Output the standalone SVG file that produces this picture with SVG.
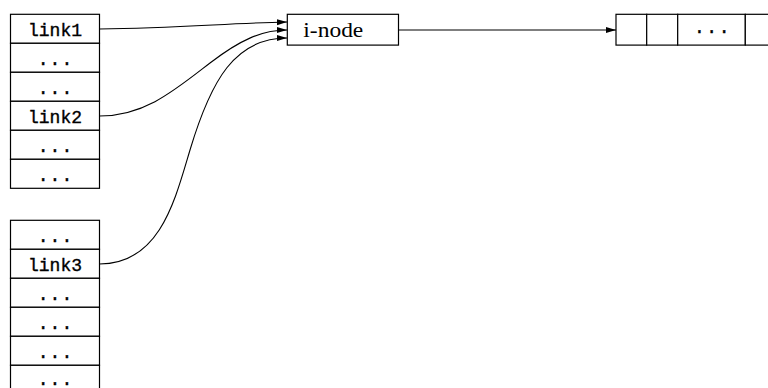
<svg xmlns="http://www.w3.org/2000/svg" width="768" height="388" viewBox="0 0 768 388">
<defs>
<style>
.box{fill:#fff;stroke:#000;stroke-width:1.2}
.mono{font-family:"Liberation Mono","DejaVu Sans Mono",monospace;font-size:18px;fill:#000;stroke:#000;stroke-width:0.35;text-anchor:middle}
.dots{letter-spacing:1px}
.serif{font-family:"Liberation Serif","DejaVu Serif",serif;font-size:22px;fill:#000}
.edge{fill:none;stroke:#000;stroke-width:1.1}
</style>
<marker id="arr" markerUnits="userSpaceOnUse" markerWidth="11" markerHeight="7" refX="10" refY="3" orient="auto">
<path d="M0,0 L10,3 L0,6 z" fill="#000"/>
</marker>
</defs>
<rect width="768" height="388" fill="#fff"/>
<g id="table1">
<rect class="box" x="10.5" y="14.3" width="89" height="29"/>
<rect class="box" x="10.5" y="43.3" width="89" height="29"/>
<rect class="box" x="10.5" y="72.3" width="89" height="29"/>
<rect class="box" x="10.5" y="101.3" width="89" height="29"/>
<rect class="box" x="10.5" y="130.3" width="89" height="29"/>
<rect class="box" x="10.5" y="159.3" width="89" height="29"/>
<text class="mono" x="55" y="36">link1</text>
<text class="mono dots" x="55.5" y="65">...</text>
<text class="mono dots" x="55.5" y="94">...</text>
<text class="mono" x="55" y="123">link2</text>
<text class="mono dots" x="55.5" y="152">...</text>
<text class="mono dots" x="55.5" y="181">...</text>
</g>
<g id="table2">
<rect class="box" x="10.5" y="220.3" width="89" height="29"/>
<rect class="box" x="10.5" y="249.3" width="89" height="29"/>
<rect class="box" x="10.5" y="278.3" width="89" height="29"/>
<rect class="box" x="10.5" y="307.3" width="89" height="29"/>
<rect class="box" x="10.5" y="336.3" width="89" height="29"/>
<rect class="box" x="10.5" y="365.3" width="89" height="29"/>
<text class="mono dots" x="55.5" y="242">...</text>
<text class="mono" x="55" y="271">link3</text>
<text class="mono dots" x="55.5" y="300">...</text>
<text class="mono dots" x="55.5" y="329">...</text>
<text class="mono dots" x="55.5" y="358">...</text>
<text class="mono dots" x="55.5" y="384.5">...</text>
</g>
<g id="inode">
<rect class="box" x="287.3" y="14.3" width="111.2" height="30.8"/>
<text class="serif" x="303.3" y="36.7" textLength="60" lengthAdjust="spacingAndGlyphs">i-node</text>
</g>
<g id="blocks">
<rect class="box" x="616" y="14.3" width="30.7" height="30.8"/>
<rect class="box" x="646.7" y="14.3" width="31" height="30.8"/>
<rect class="box" x="677.7" y="14.3" width="67.6" height="30.8"/>
<rect class="box" x="745.3" y="14.3" width="31" height="30.8"/>
<text class="mono" x="712.5" y="33" style="letter-spacing:1.5px">...</text>
</g>
<g id="connectors">
<path class="edge" marker-end="url(#arr)" d="M99.5,29 C180,28 230,23 287,22"/>
<path class="edge" marker-end="url(#arr)" d="M99.5,116 C145,116 175,90 210,63 C240,40 262,30 287,30"/>
<path class="edge" marker-end="url(#arr)" d="M99.5,264 C160,264 175,200 190,150 C211,80 235,38 287,38"/>
<path class="edge" marker-end="url(#arr)" d="M398.5,30 L616,30"/>
</g>
</svg>
